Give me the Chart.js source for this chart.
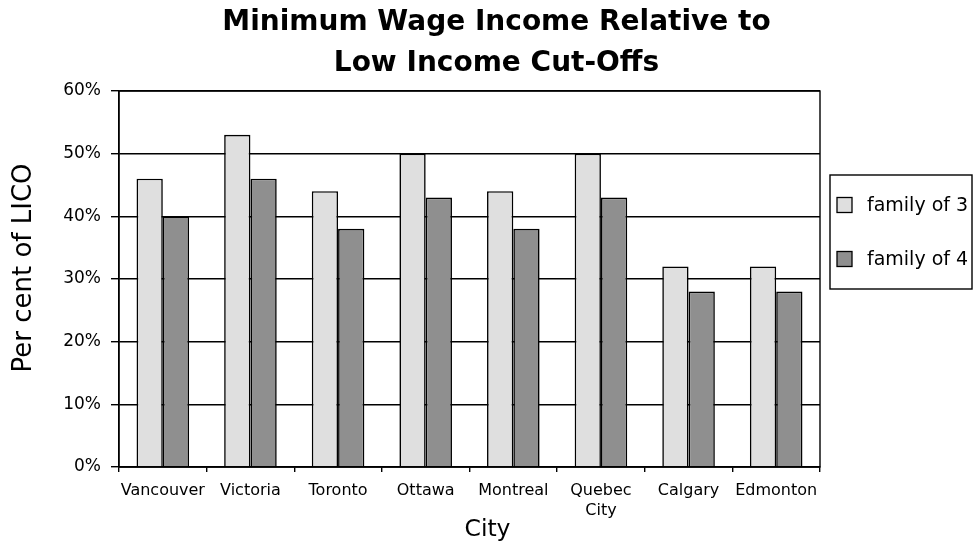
<!DOCTYPE html>
<html>
<head>
<meta charset="utf-8">
<style>
  html, body { margin: 0; padding: 0; background: #ffffff; }
  #wrap { width: 976px; height: 546px; }
</style>
<script src="https://cdn.jsdelivr.net/npm/chart.js@4/dist/chart.umd.min.js"></script>
</head>
<body>
<div id="wrap"><canvas id="chart" width="976" height="546"></canvas></div>
<script>
// Cities along the x axis
const cities = ['Vancouver', 'Victoria', 'Toronto', 'Ottawa', 'Montreal', ['Quebec', 'City'], 'Calgary', 'Edmonton'];

// Minimum wage income as a share of the low income cut-off (%)
const familyOf3 = [46, 53, 44, 50, 44, 50, 32, 32];
const familyOf4 = [40, 46, 38, 43, 38, 43, 28, 28];

const seriesNames = ['family of 3', 'family of 4'];
const yTicks = [0, 10, 20, 30, 40, 50, 60];
const xTitle = 'City';
const yTitle = 'Per cent of LICO';

const FONT = '"DejaVu Sans", sans-serif';

// Frame around the plotting area
const frame = {
  id: 'frame',
  afterDatasetsDraw(chart) {
    const a = chart.chartArea, ctx = chart.ctx;
    ctx.save();
    ctx.strokeStyle = '#000';
    ctx.lineWidth = 1.4;
    ctx.strokeRect(a.left, a.top, a.right - a.left, a.bottom - a.top);
    ctx.restore();
  }
};

// Axis titles placed relative to the plotting area
const axisTitles = {
  id: 'axisTitles',
  afterDraw(chart) {
    const ctx = chart.ctx, a = chart.chartArea;
    ctx.save();
    ctx.fillStyle = '#000';
    ctx.textAlign = 'center';
    ctx.textBaseline = 'middle';
    ctx.font = '23.5px ' + FONT;
    ctx.fillText(xTitle, (a.left + a.right) / 2 + 18, a.bottom + 63);
    ctx.translate(24, (a.top + a.bottom) / 2 - 11);
    ctx.rotate(-Math.PI / 2);
    ctx.font = '26px ' + FONT;
    ctx.fillText(yTitle, 0, 0);
    ctx.restore();
  }
};

// Boxed legend occupying its own slot on the right of the layout
const legendStyle = { space: 156, gap: 10, top: 175, width: 142, height: 114, firstRow: 30, rowStep: 54, swatch: 15, font: '19px ' + FONT };

function drawBoxedLegend(chart, box) {
  const ctx = chart.ctx, s = legendStyle;
  const x = box.left + s.gap, y = s.top;
  ctx.save();
  ctx.strokeStyle = '#000';
  ctx.lineWidth = 1.4;
  ctx.strokeRect(x, y, s.width, s.height);
  ctx.font = s.font;
  ctx.textBaseline = 'middle';
  ctx.textAlign = 'left';
  chart.data.datasets.forEach((ds, i) => {
    const cy = y + s.firstRow + i * s.rowStep;
    ctx.fillStyle = ds.backgroundColor;
    ctx.fillRect(x + 7, cy - s.swatch / 2, s.swatch, s.swatch);
    ctx.strokeStyle = '#000';
    ctx.lineWidth = 1.3;
    ctx.strokeRect(x + 7, cy - s.swatch / 2, s.swatch, s.swatch);
    ctx.fillStyle = '#000';
    ctx.fillText(ds.label, x + 37, cy + 1);
  });
  ctx.restore();
}

const boxedLegend = {
  id: 'boxedLegend',
  start(chart) {
    const box = {
      position: 'right', weight: 100, fullSize: false,
      options: { stackWeight: 1 },
      left: 0, top: 0, right: 0, bottom: 0, width: 0, height: 0,
      isHorizontal() { return false; },
      update(maxWidth, maxHeight) { this.width = legendStyle.space; this.height = maxHeight; },
      draw() { drawBoxedLegend(chart, this); }
    };
    chart.$boxedLegend = box;
    Chart.layouts.addBox(chart, box);
  },
  stop(chart) {
    Chart.layouts.removeBox(chart, chart.$boxedLegend);
  }
};

new Chart(document.getElementById('chart'), {
  type: 'bar',
  data: {
    labels: cities,
    datasets: [
      { label: seriesNames[0], data: familyOf3, backgroundColor: '#dfdfdf', borderColor: '#000', borderWidth: 1.6 },
      { label: seriesNames[1], data: familyOf4, backgroundColor: '#8f8f8f', borderColor: '#000', borderWidth: 1.6 }
    ]
  },
  options: {
    responsive: false,
    animation: false,
    devicePixelRatio: 1,
    layout: { padding: { left: 17, right: 0, top: 0, bottom: 0 } },
    datasets: { bar: { barPercentage: 1.0, categoryPercentage: 0.6 } },
    plugins: {
      legend: { display: false },
      tooltip: { enabled: false },
      title: {
        display: true,
        text: ['Minimum Wage Income Relative to', 'Low Income Cut-Offs'],
        color: '#000',
        font: { family: FONT, size: 28, weight: 'bold', lineHeight: 41 / 28 },
        padding: { top: 2.5, bottom: 6.5 }
      }
    },
    scales: {
      x: {
        grid: { display: true, drawOnChartArea: false, drawTicks: true, tickLength: 5, color: '#000', lineWidth: 1.4, offset: true },
        border: { display: true, color: '#000', width: 1.4 },
        ticks: { color: '#000', font: { family: FONT, size: 16, lineHeight: 1.3 }, padding: 8, maxRotation: 0, autoSkip: false },
        afterFit(scale) { scale.height = 546 - 467; }
      },
      y: {
        min: 0, max: 60,
        afterBuildTicks(scale) { scale.ticks = yTicks.map(v => ({ value: v })); },
        grid: { color: '#000', lineWidth: 1.4, drawTicks: true, tickLength: 8 },
        border: { display: true, color: '#000', width: 1.4 },
        ticks: { color: '#000', font: { family: FONT, size: 17 }, padding: 10, callback: v => v + '%' },
        afterFit(scale) { scale.width = 119 - 17; }
      }
    }
  },
  plugins: [frame, axisTitles, boxedLegend]
});
</script>
</body>
</html>
